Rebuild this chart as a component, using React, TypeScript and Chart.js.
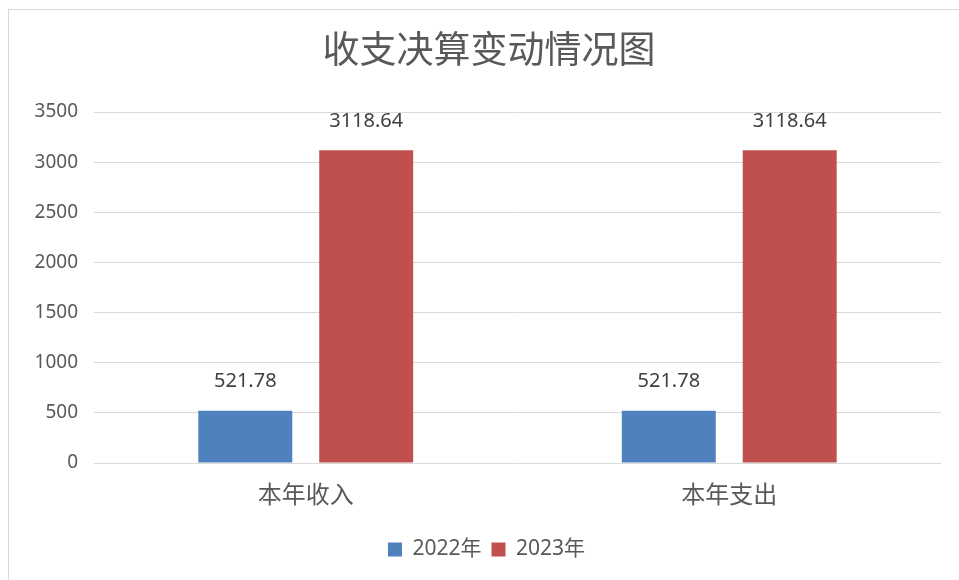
import React, { useEffect, useRef } from "react";
import { Chart, registerables } from "chart.js";

Chart.register(...registerables);

const categories = ["本年收入", "本年支出"];
const seriesNames = ["2022年", "2023年"];
const values2022 = [521.78, 521.78];
const values2023 = [3118.64, 3118.64];
const yTicks = [0, 500, 1000, 1500, 2000, 2500, 3000, 3500];
const chartTitle = "收支决算变动情况图";

const FONT = "'Noto Sans', 'Noto Sans CJK SC', sans-serif";
const TEXT = "#595959";

const dataLabels = {
  id: "dataLabels",
  afterDatasetsDraw(chart: any) {
    const ctx = chart.ctx;
    ctx.save();
    ctx.font = `20px ${FONT}`;
    ctx.fillStyle = "#404040";
    ctx.textAlign = "center";
    ctx.textBaseline = "middle";
    chart.data.datasets.forEach((ds: any, i: number) => {
      const meta = chart.getDatasetMeta(i);
      meta.data.forEach((bar: any, j: number) => {
        const v = ds.data[j];
        ctx.fillText(v.toFixed(2), bar.x, bar.y - 29);
      });
    });
    ctx.restore();
  },
};

const titlePlugin = {
  id: "offsetTitle",
  afterLayout(chart: any) {
    if (chart.legend) {
      chart.legend.left += 16;
      chart.legend.right += 16;
    }
  },
  afterDraw(chart: any) {
    const ctx = chart.ctx;
    ctx.save();
    ctx.font = `37px ${FONT}`;
    ctx.fillStyle = TEXT;
    ctx.textAlign = "center";
    ctx.textBaseline = "middle";
    ctx.fillText(chartTitle, 489, 52);
    ctx.restore();
  },
};

export default function App() {
  const ref = useRef<HTMLCanvasElement>(null);
  useEffect(() => {
    if (!ref.current) return;
    const chart = new Chart(ref.current, {
      type: "bar",
      data: {
        labels: categories,
        datasets: [
          {
            label: seriesNames[0],
            data: values2022,
            backgroundColor: "#4F81BD",
            categoryPercentage: 0.571,
            barPercentage: 0.777,
          },
          {
            label: seriesNames[1],
            data: values2023,
            backgroundColor: "#C0504D",
            categoryPercentage: 0.571,
            barPercentage: 0.777,
          },
        ],
      },
      options: {
        animation: false,
        responsive: false,
        maintainAspectRatio: false,
        layout: { padding: { left: 0, right: 18, top: 112, bottom: 10 } },
        plugins: {
          title: { display: false },
          legend: {
            position: "bottom",
            labels: {
              color: TEXT,
              font: { family: FONT, size: 21 },
              boxWidth: 14,
              boxHeight: 14,
              padding: 10,
            },
          },
          tooltip: { enabled: false },
        },
        scales: {
          x: {
            grid: { display: false, drawTicks: false },
            border: { display: false },
            ticks: {
              color: TEXT,
              font: { family: FONT, size: 24 },
              padding: 19,
            },
            afterFit: (s: any) => {
              s.height = 66;
            },
          },
          y: {
            min: 0,
            max: 3500,
            afterBuildTicks: (s: any) => {
              s.ticks = yTicks.map((v) => ({ value: v }));
            },
            grid: { color: "#D9D9D9", lineWidth: 1, drawTicks: false },
            border: { display: false },
            ticks: {
              color: TEXT,
              font: { family: FONT, size: 19 },
              padding: 16,
              callback: (v: any) => String(v),
            },
            afterFit: (s: any) => {
              s.width = 94;
            },
          },
        },
      },
      plugins: [dataLabels, titlePlugin],
    });
    return () => chart.destroy();
  }, []);

  return (
    <div style={{ position: "fixed", left: 0, top: 0, width: 959, height: 580, background: "#fff", overflow: "hidden" }}>
      <div
        style={{
          position: "absolute",
          left: 8,
          top: 9,
          width: 970,
          height: 600,
          border: "1px solid #D9D9D9",
          boxSizing: "border-box",
        }}
      />
      <canvas ref={ref} width={959} height={580} style={{ position: "absolute", left: 0, top: 0 }} />
    </div>
  );
}
